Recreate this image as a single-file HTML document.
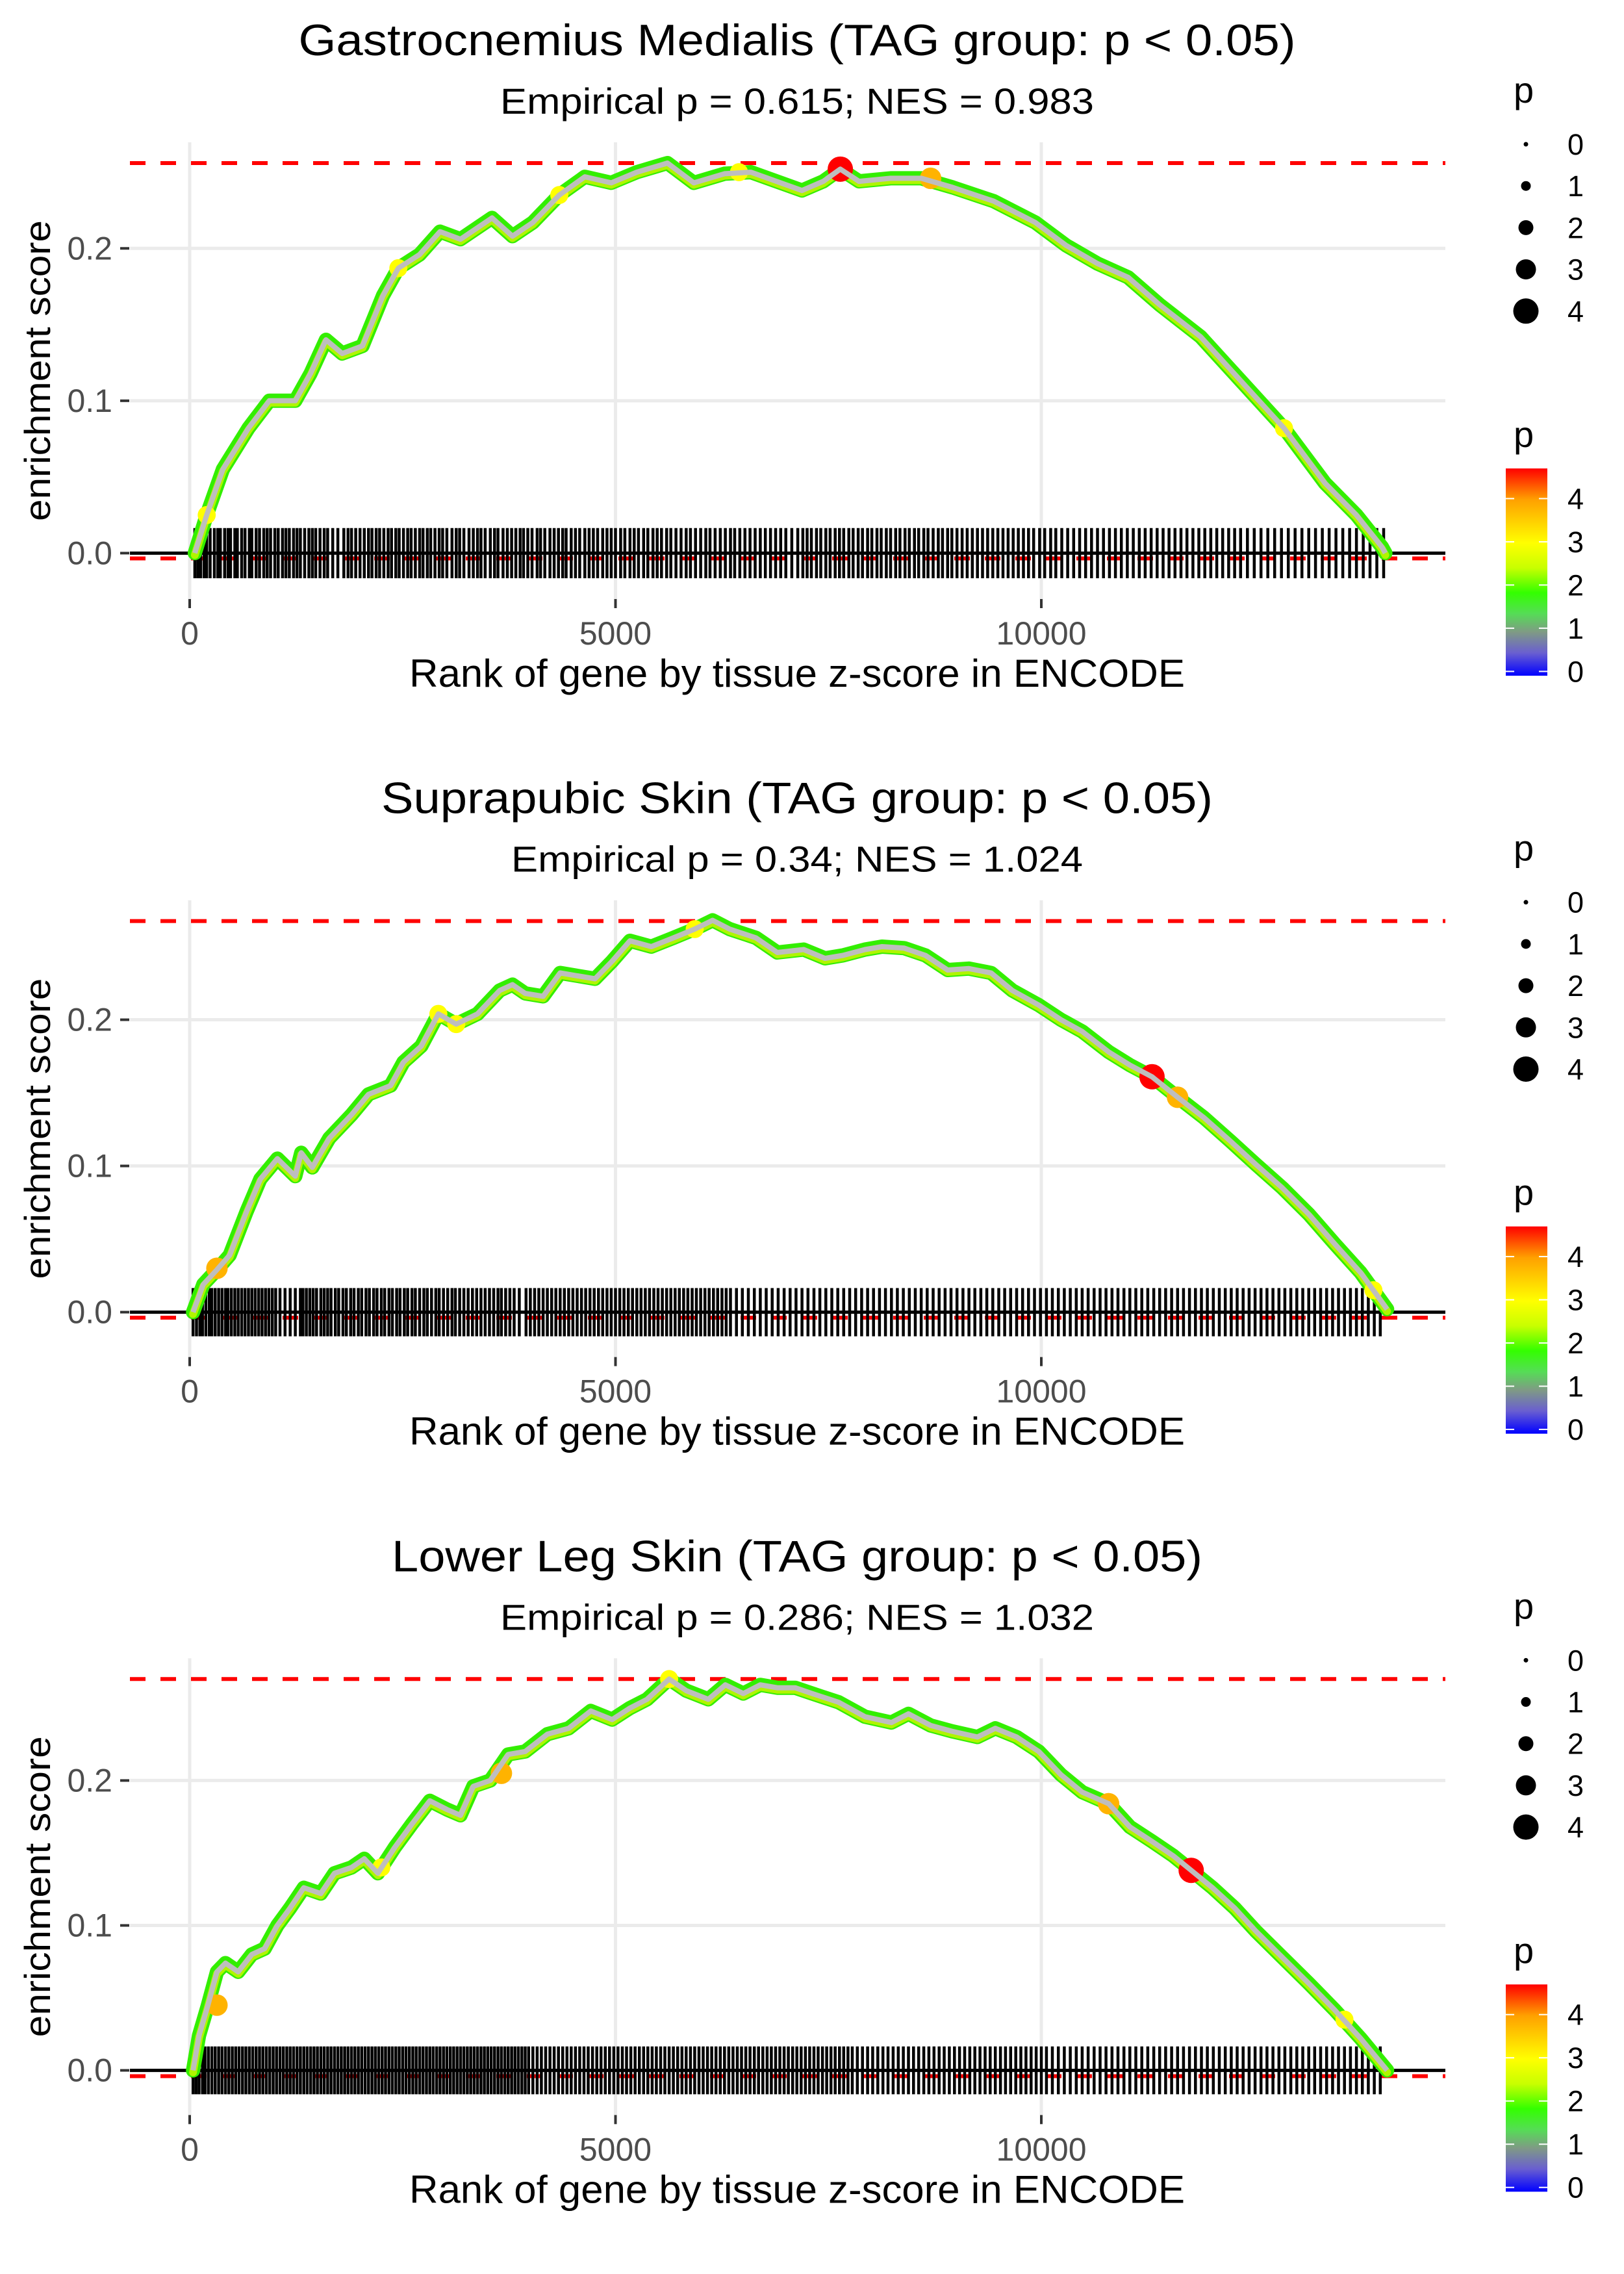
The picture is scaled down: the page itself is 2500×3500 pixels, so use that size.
<!DOCTYPE html>
<html><head><meta charset="utf-8"><style>
html,body{margin:0;padding:0;background:#fff;}
svg{display:block;font-family:"Liberation Sans",Arial,sans-serif;}
</style></head><body>
<svg id="fig" width="2500" height="3500" viewBox="0 0 2500 3500" xmlns="http://www.w3.org/2000/svg">
<defs>
<linearGradient id="pgrad" x1="0" y1="1" x2="0" y2="0">
<stop offset="0" stop-color="#0000ff"/>
<stop offset="0.11" stop-color="#6a5fd0"/>
<stop offset="0.21" stop-color="#7f9a85"/>
<stop offset="0.30" stop-color="#55dd55"/>
<stop offset="0.40" stop-color="#33ff00"/>
<stop offset="0.52" stop-color="#c8ff00"/>
<stop offset="0.64" stop-color="#ffff00"/>
<stop offset="0.85" stop-color="#ffa000"/>
<stop offset="1" stop-color="#ff0000"/>
</linearGradient>
</defs>
</svg>
<script>
// ---------- DATA ----------
const panelTitles = ["Gastrocnemius Medialis (TAG group: p < 0.05)","Suprapubic Skin (TAG group: p < 0.05)","Lower Leg Skin (TAG group: p < 0.05)"];
const panelSubtitles = ["Empirical p = 0.615; NES = 0.983","Empirical p = 0.34; NES = 1.024","Empirical p = 0.286; NES = 1.032"];
const yTicks = [0.0, 0.1, 0.2];
const yTickLabels = ["0.0","0.1","0.2"];
const xTicks = [0, 5000, 10000];
const xTickLabels = ["0","5000","10000"];
const sizeLegendValues = [0,1,2,3,4];
const colorLegendValues = [0,1,2,3,4];

const rank1 = [60,200,390,690,935,1240,1420,1600,1790,2030,2270,2450,2700,2940,3180,3550,3790,4030,4340,4640,4950,5250,5610,5920,6280,6590,6890,7190,7440,7640,7860,8230,8590,8960,9440,9930,10290,10660,11020,11390,11870,12360,12850,13330,13700,14000,14040];
const es1 = [0.0,0.025,0.055,0.082,0.10,0.10,0.118,0.14,0.131,0.136,0.169,0.187,0.196,0.211,0.206,0.22,0.208,0.217,0.235,0.247,0.243,0.25,0.256,0.243,0.249,0.25,0.244,0.238,0.244,0.252,0.244,0.246,0.246,0.24,0.231,0.217,0.202,0.19,0.181,0.163,0.142,0.112,0.082,0.046,0.025,0.004,0.0];
const rank2 = [40,160,320,470,670,830,1030,1240,1310,1440,1640,1900,2100,2360,2510,2720,2920,3130,3380,3640,3790,3940,4150,4350,4760,4960,5170,5420,5680,5930,6140,6340,6650,6900,7210,7460,7670,7930,8130,8390,8640,8900,9150,9410,9660,9970,10230,10480,10790,11040,11300,11600,11910,12220,12520,12830,13140,13440,13750,14060];
const es2 = [0.0,0.019,0.029,0.039,0.069,0.091,0.105,0.093,0.109,0.099,0.119,0.135,0.149,0.155,0.171,0.182,0.204,0.197,0.204,0.22,0.224,0.218,0.216,0.232,0.228,0.24,0.254,0.25,0.256,0.262,0.268,0.262,0.256,0.246,0.248,0.242,0.244,0.248,0.25,0.249,0.244,0.234,0.235,0.232,0.22,0.21,0.2,0.192,0.178,0.169,0.161,0.147,0.133,0.117,0.101,0.085,0.067,0.047,0.027,0.002];
const rank3 = [40,110,210,320,420,570,730,880,1030,1180,1340,1540,1700,1900,2050,2210,2410,2610,2820,3020,3180,3330,3530,3740,3940,4200,4450,4710,4960,5170,5370,5630,5830,6090,6290,6500,6700,6900,7110,7310,7620,7930,8240,8440,8700,8950,9250,9460,9710,9970,10230,10480,10790,11040,11300,11550,11760,12010,12270,12520,12830,13140,13440,13750,14060];
const es3 = [0.0,0.024,0.044,0.068,0.074,0.068,0.08,0.084,0.1,0.112,0.126,0.122,0.136,0.14,0.146,0.136,0.154,0.17,0.186,0.18,0.176,0.196,0.2,0.218,0.22,0.232,0.236,0.248,0.242,0.25,0.256,0.27,0.262,0.256,0.266,0.26,0.266,0.264,0.264,0.26,0.254,0.244,0.24,0.246,0.238,0.234,0.23,0.236,0.23,0.22,0.204,0.192,0.184,0.168,0.158,0.148,0.138,0.126,0.112,0.096,0.078,0.06,0.042,0.022,0.0];

// highlighted (high p) points: rank, es, p
const hiRank1 = [200,2450,4340,6450,7640,8700,12850];
const hiEs1 = [0.025,0.187,0.235,0.25,0.252,0.246,0.082];
const hiP1 = [3.0,3.0,3.0,3.0,4.7,3.8,3.0];
const hiRank2 = [320,2920,3130,5930,11300,11600,13900];
const hiEs2 = [0.03,0.204,0.197,0.262,0.161,0.147,0.015];
const hiP2 = [3.8,3.0,3.0,3.0,4.7,3.8,3.0];
const hiRank3 = [320,2250,3660,5630,10790,11760,13560];
const hiEs3 = [0.045,0.14,0.205,0.27,0.184,0.138,0.035];
const hiP3 = [3.8,3.0,3.8,3.0,3.8,4.7,3.0];

const rug1 = [60,95,130,170,200,240,290,330,360,410,450,480,530,560,610,650,700,730,780,820,870,910,950,1000,1040,1090,1130,1170,1220,1260,1300,1350,1400,1440,1480,1530,1580,1620,1680,1740,1810,1860,1900,1950,2000,2050,2100,2140,2190,2230,2280,2330,2370,2420,2460,2510,2560,2600,2650,2700,2740,2790,2830,2880,2930,2970,3020,3080,3130,3170,3220,3280,3330,3380,3420,3470,3530,3580,3620,3680,3730,3780,3830,3880,3920,3970,4020,4080,4120,4170,4230,4280,4330,4380,4420,4480,4530,4580,4640,4690,4740,4790,4850,4900,4950,5000,5060,5110,5170,5220,5270,5330,5380,5440,5490,5540,5600,5650,5710,5770,5830,5880,5940,6000,6060,6110,6170,6230,6290,6350,6400,6460,6520,6580,6640,6700,6760,6820,6880,6940,7000,7070,7140,7200,7250,7300,7360,7410,7470,7520,7580,7630,7680,7740,7790,7850,7900,7960,8010,8070,8120,8180,8230,8290,8340,8400,8450,8510,8560,8620,8670,8730,8790,8840,8900,8950,9010,9070,9130,9190,9250,9310,9370,9430,9490,9550,9610,9670,9730,9790,9850,9910,9980,10040,10110,10170,10240,10310,10380,10450,10520,10590,10660,10730,10800,10870,10940,11010,11080,11150,11220,11290,11360,11430,11500,11570,11640,11710,11780,11850,11920,11990,12060,12130,12200,12270,12340,12420,12500,12580,12660,12740,12820,12900,12980,13060,13140,13220,13300,13380,13460,13540,13620,13700,13780,13860,13940,14020];
const rug2 = [40,80,120,150,190,230,260,300,340,380,420,450,490,530,570,610,650,690,730,770,810,850,890,930,970,1010,1060,1120,1180,1240,1300,1330,1370,1410,1450,1490,1540,1580,1620,1660,1710,1750,1800,1840,1890,1930,1980,2020,2070,2110,2160,2200,2250,2290,2340,2380,2430,2470,2520,2560,2610,2650,2700,2750,2790,2840,2890,2930,2980,3030,3080,3120,3170,3220,3270,3320,3370,3420,3470,3520,3570,3620,3660,3710,3760,3810,3870,3950,4000,4050,4100,4150,4200,4250,4300,4350,4400,4450,4500,4550,4600,4650,4700,4750,4800,4850,4900,4950,5000,5050,5100,5150,5200,5250,5300,5350,5400,5450,5500,5550,5600,5650,5700,5750,5800,5850,5900,5950,6000,6050,6100,6150,6200,6250,6300,6350,6420,6490,6560,6630,6700,6770,6840,6910,6980,7050,7120,7190,7260,7330,7400,7470,7540,7610,7680,7750,7820,7890,7960,8030,8100,8170,8240,8310,8380,8450,8520,8590,8660,8730,8800,8870,8940,9010,9080,9150,9220,9290,9360,9430,9500,9570,9640,9710,9780,9850,9920,9990,10060,10130,10200,10270,10340,10410,10480,10550,10620,10690,10760,10830,10900,10970,11040,11110,11180,11250,11320,11390,11460,11530,11600,11670,11740,11810,11880,11950,12020,12090,12160,12230,12300,12370,12440,12510,12580,12650,12720,12790,12860,12930,13000,13070,13140,13210,13280,13350,13420,13490,13560,13630,13700,13770,13840,13910,13980];
const rug3 = [40,75,110,150,180,220,260,300,340,380,420,460,500,540,580,620,660,700,740,780,820,860,900,940,980,1020,1060,1100,1140,1180,1220,1260,1300,1340,1380,1420,1460,1500,1540,1580,1620,1660,1700,1740,1780,1820,1860,1900,1940,1980,2020,2060,2100,2140,2180,2220,2260,2300,2340,2380,2420,2460,2500,2540,2580,2620,2660,2700,2740,2780,2820,2860,2900,2940,2980,3020,3060,3100,3140,3180,3220,3260,3300,3340,3380,3420,3460,3500,3540,3580,3620,3660,3700,3740,3780,3820,3860,3900,3940,3980,4030,4080,4130,4180,4230,4280,4330,4380,4430,4480,4530,4580,4630,4680,4730,4780,4830,4880,4930,4980,5030,5080,5130,5180,5230,5280,5330,5380,5430,5480,5530,5580,5630,5680,5730,5780,5830,5880,5930,5980,6030,6080,6130,6180,6230,6280,6330,6380,6430,6480,6530,6580,6630,6680,6730,6780,6830,6880,6930,6980,7030,7080,7130,7180,7230,7280,7330,7380,7430,7480,7530,7580,7630,7680,7730,7780,7840,7900,7960,8020,8080,8140,8200,8260,8320,8380,8440,8500,8560,8620,8680,8740,8800,8860,8920,8980,9040,9100,9160,9220,9280,9340,9400,9460,9520,9580,9640,9700,9760,9820,9880,9940,10000,10060,10130,10200,10270,10340,10410,10480,10550,10620,10690,10760,10830,10900,10970,11040,11110,11180,11250,11320,11390,11460,11530,11600,11670,11740,11810,11880,11950,12020,12090,12160,12230,12300,12370,12440,12510,12580,12650,12720,12790,12860,12930,13000,13070,13140,13210,13280,13350,13420,13490,13560,13630,13700,13770,13840,13910,13980];

const maxEs = [0.256, 0.2675, 0.270];
const minEs = [-0.0035, -0.0038, -0.004];

// ---------- DRAW ----------
const NS = "http://www.w3.org/2000/svg";
const svg = document.getElementById('fig');
function mk(tag, attrs, parent){const e=document.createElementNS(NS,tag);for(const k in attrs)e.setAttribute(k,attrs[k]);(parent||svg).appendChild(e);return e;}

function pColor(p){
  const stops=[[0,[0,0,255]],[0.5,[106,95,208]],[1,[127,154,133]],[1.4,[85,221,85]],[1.9,[51,255,0]],[2.45,[200,255,0]],[3,[255,255,0]],[4,[255,160,0]],[4.7,[255,0,0]]];
  for(let i=1;i<stops.length;i++){ if(p<=stops[i][0]){const a=stops[i-1],b=stops[i];const t=(p-a[0])/(b[0]-a[0]);const c=a[1].map((v,j)=>Math.round(v+(b[1][j]-v)*t));return `rgb(${c[0]},${c[1]},${c[2]})`;} }
  return 'rgb(255,0,0)';
}

const panels=[
 {rank:rank1,es:es1,rug:rug1,hr:hiRank1,he:hiEs1,hp:hiP1},
 {rank:rank2,es:es2,rug:rug2,hr:hiRank2,he:hiEs2,hp:hiP2},
 {rank:rank3,es:es3,rug:rug3,hr:hiRank3,he:hiEs3,hp:hiP3}
];
const PL=200, PR=2225, PH=703;
const rugTop=0.0165, rugBot=-0.0165;

panels.forEach((pd,k)=>{
  const off = k*3500/3;
  const g = mk('g',{});
  
  
  const top = 219+off, bot = top+PH;
  const ylo = rugBot, yhi = maxEs[k];
  const span = yhi-ylo;
  const lo = ylo-0.05*span, hi = yhi+0.05*span;
  const y = v => bot - (v-lo)/(hi-lo)*PH;
  const x = r => 292 + r*0.1311;

  const t = mk('text',{x:1227,y:85+off,'text-anchor':'middle','font-size':68,fill:'#000',textLength:[1535,1280,1248][k],lengthAdjust:'spacingAndGlyphs'},g);
  t.textContent = panelTitles[k];
  
  
  const st = mk('text',{x:1227,y:175+off,'text-anchor':'middle','font-size':56,fill:'#000',textLength:[914,880,914][k],lengthAdjust:'spacingAndGlyphs'},g);
  st.textContent = panelSubtitles[k];
  
  

  yTicks.forEach((v,i)=>{
    const gl = mk('line',{x1:PL,x2:PR,y1:y(v),y2:y(v),stroke:'#ebebeb','stroke-width':5},g);
    
    
    const tm = mk('line',{x1:185,x2:199,y1:y(v),y2:y(v),stroke:'#333','stroke-width':4},g);
    
    
    const tl = mk('text',{x:173,y:y(v)+17,'text-anchor':'end','font-size':50,fill:'#4d4d4d'},g);
    tl.textContent = yTickLabels[i];
    
    
  });
  xTicks.forEach((v,i)=>{
    const gl = mk('line',{x1:x(v),x2:x(v),y1:top,y2:bot,stroke:'#ebebeb','stroke-width':5},g);
    
    
    const tm = mk('line',{x1:x(v),x2:x(v),y1:bot,y2:bot+14,stroke:'#333','stroke-width':4},g);
    
    
    const tl = mk('text',{x:x(v),y:bot+70,'text-anchor':'middle','font-size':50,fill:'#4d4d4d'},g);
    tl.textContent = xTickLabels[i];
    
    
  });

  const yt = mk('text',{transform:`translate(77,${(top+bot)/2}) rotate(-90)`,'text-anchor':'middle','font-size':56,fill:'#000',textLength:463,lengthAdjust:'spacingAndGlyphs'},g);
  yt.textContent='enrichment score';
  
  
  const xt = mk('text',{x:1227,y:bot+135,'text-anchor':'middle','font-size':60,fill:'#000',textLength:1194,lengthAdjust:'spacingAndGlyphs'},g);
  xt.textContent='Rank of gene by tissue z-score in ENCODE';
  
  

  [maxEs[k],minEs[k]].forEach(v=>{
    const rl = mk('line',{x1:PL,x2:PR,y1:y(v),y2:y(v),stroke:'#ff0000','stroke-width':6,'stroke-dasharray':'24 23'},g);
    
    
  });

  let rp='';
  pd.rug.forEach(r=>{rp+=`M${x(r).toFixed(1)} ${y(rugTop).toFixed(1)}V${y(rugBot).toFixed(1)}`;});
  const rug = mk('path',{d:rp,stroke:'#000','stroke-width':4.5,fill:'none'},g);
  
  

  const zl = mk('line',{x1:PL,x2:PR,y1:y(0),y2:y(0),stroke:'#000','stroke-width':5},g);
  
  

  const pts = pd.rank.map((r,i)=>`${x(r).toFixed(1)},${y(pd.es[i]).toFixed(1)}`).join(' ');
  const band = mk('polyline',{points:pts,fill:'none',stroke:'#33ee00','stroke-width':22,'stroke-linejoin':'round','stroke-linecap':'round'},g);
  
  
  const band2 = mk('polyline',{points:pts,fill:'none',stroke:'#b0f500','stroke-width':12,'stroke-linejoin':'round','stroke-linecap':'round','transform':'translate(0,3)'},g);
  
  
  pd.hr.forEach((r,i)=>{
    const c = mk('circle',{cx:x(r),cy:y(pd.he[i]),r:4+pd.hp[i]*3.3,fill:pColor(pd.hp[i])},g);
    
    
  });
  const line = mk('polyline',{points:pts,fill:'none',stroke:'#bebebe','stroke-width':8,'stroke-linejoin':'round'},g);
  
  

  const sl = mk('g',{},g);
  
  
  const sT = mk('text',{x:2330,y:158+off,'font-size':56,fill:'#000'},sl);
  sT.textContent='p';
  
  
  sizeLegendValues.forEach((v,i)=>{
    const cy = 222+i*64.2+off;
    const c = mk('circle',{cx:2349,cy:cy,r:3.5+v*4,fill:'#000'},sl);
    
    
    const tx = mk('text',{x:2413,y:cy+16,'font-size':45,fill:'#000'},sl);
    tx.textContent = String(v);
    
    
  });

  const cl = mk('g',{},g);
  
  
  const cT = mk('text',{x:2330,y:688+off,'font-size':56,fill:'#000'},cl);
  cT.textContent='p';
  
  
  const barTop=721+off, barBot=1040+off;
  const bar = mk('rect',{x:2318,y:barTop,width:64,height:barBot-barTop,fill:'url(#pgrad)'},cl);
  
  
  const cy = v => 1033.4+off - v*66.5;
  colorLegendValues.forEach(v=>{
    const t1 = mk('line',{x1:2318,x2:2331,y1:cy(v),y2:cy(v),stroke:'#fff','stroke-width':2},cl);
    
    
    const t2 = mk('line',{x1:2369,x2:2382,y1:cy(v),y2:cy(v),stroke:'#fff','stroke-width':2},cl);
    
    
    const tx = mk('text',{x:2413,y:cy(v)+16,'font-size':45,fill:'#000'},cl);
    tx.textContent=String(v);
    
    
  });
});
</script>
</body></html>
